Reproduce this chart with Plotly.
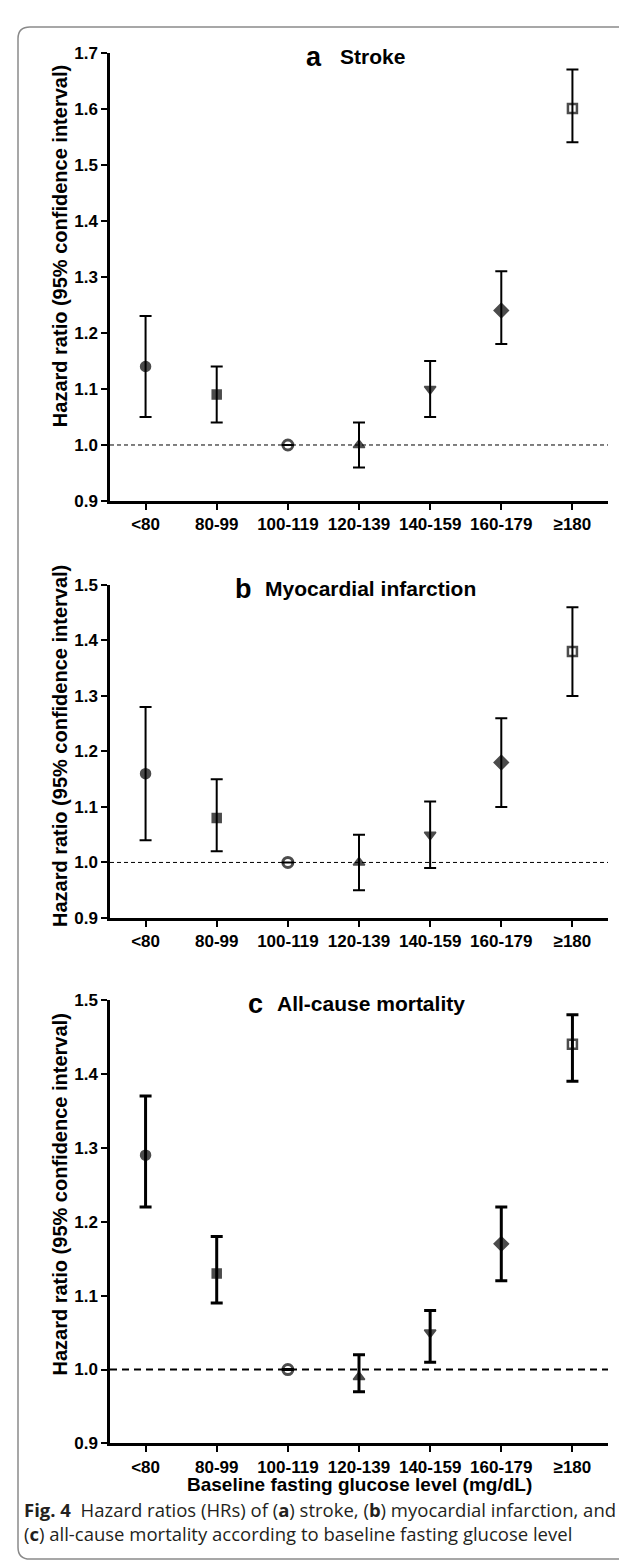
import plotly.graph_objects as go

W, H = 627, 1565

categories = ["<80", "80-99", "100-119", "120-139", "140-159", "160-179", "≥180"]
symbols = ["circle", "square", "circle-open", "triangle-up", "triangle-down", "diamond", "square-open"]
marker_sizes = [10, 9, 10, 10, 10, 11, 9]
marker_lw = [1.5, 1.5, 3, 1.5, 1.5, 1.5, 2.5]

# Panel a: Stroke
hr_a = [1.14, 1.09, 1.00, 1.00, 1.10, 1.24, 1.60]
lo_a = [1.05, 1.04, None, 0.96, 1.05, 1.18, 1.54]
hi_a = [1.23, 1.14, None, 1.04, 1.15, 1.31, 1.67]

# Panel b: Myocardial infarction
hr_b = [1.16, 1.08, 1.00, 1.00, 1.05, 1.18, 1.38]
lo_b = [1.04, 1.02, None, 0.95, 0.99, 1.10, 1.30]
hi_b = [1.28, 1.15, None, 1.05, 1.11, 1.26, 1.46]

# Panel c: All-cause mortality
hr_c = [1.29, 1.13, 1.00, 0.99, 1.05, 1.17, 1.44]
lo_c = [1.22, 1.09, None, 0.97, 1.01, 1.12, 1.39]
hi_c = [1.37, 1.18, None, 1.02, 1.08, 1.22, 1.48]

yticks_a = [0.9, 1.0, 1.1, 1.2, 1.3, 1.4, 1.5, 1.6, 1.7]
yticks_bc = [0.9, 1.0, 1.1, 1.2, 1.3, 1.4, 1.5]

REF = 1.0

FONT = "Liberation Sans, Arial, sans-serif"

def py(px):
    return 1 - px / H

def px_x(px):
    return px / W

panels = [
    dict(hr=hr_a, lo=lo_a, hi=hi_a, top=36, bot=490, rng=[0.9, 1.7], ticks=yticks_a,
         letter="a", title="Stroke", lx=306, tx=330, ty=40, thick=2, dash_w=1, dash="4px,3px", yt=232),
    dict(hr=hr_b, lo=lo_b, hi=hi_b, top=575, bot=912, rng=[0.9, 1.5], ticks=yticks_bc,
         letter="b", title="Myocardial infarction", lx=235, tx=255, ty=579, thick=2, dash_w=1, dash="4px,3px", yt=738),
    dict(hr=hr_c, lo=lo_c, hi=hi_c, top=995, bot=1444, rng=[0.9, 1.5], ticks=yticks_bc,
         letter="c", title="All-cause mortality", lx=248, tx=267, ty=999, thick=3, dash_w=2, dash="7px,5px", yt=1192),
]

fig = go.Figure()
x_left, x_right = 102, 600

annotations = []
shapes = []

for i, p in enumerate(panels, start=1):
    xa = "x" if i == 1 else f"x{i}"
    ya = "y" if i == 1 else f"y{i}"
    plus = [None if h is None else round(h - v, 4) for v, h in zip(p["hr"], p["hi"])]
    minus = [None if l is None else round(v - l, 4) for v, l in zip(p["hr"], p["lo"])]
    fig.add_trace(go.Scatter(
        x=list(range(len(categories))), y=p["hr"], mode="markers",
        xaxis=xa, yaxis=ya, showlegend=False,
        marker=dict(symbol=symbols, size=marker_sizes, color="black",
                    line=dict(color="black", width=marker_lw)),
        error_y=dict(type="data", symmetric=False, array=plus, arrayminus=minus,
                     color="black", thickness=p["thick"], width=6),
    ))
    xkey = "xaxis" if i == 1 else f"xaxis{i}"
    ykey = "yaxis" if i == 1 else f"yaxis{i}"
    fig.update_layout(**{
        xkey: dict(domain=[px_x(x_left), px_x(x_right)], anchor=ya, range=[-0.5, 6.5],
                   tickmode="array", tickvals=list(range(len(categories))), ticktext=categories,
                   showline=True, linecolor="black", linewidth=2.5, ticks="outside",
                   ticklen=6, tickwidth=2, tickcolor="black", showgrid=False, zeroline=False,
                   tickfont=dict(family=FONT, size=17, color="black", weight="bold")),
        ykey: dict(domain=[py(p["bot"]), py(p["top"])], anchor=xa, range=p["rng"],
                   tickmode="array", tickvals=p["ticks"], ticktext=[f"{t:.1f}" for t in p["ticks"]],
                   showline=True, linecolor="black", linewidth=2.5, ticks="outside",
                   ticklen=6, tickwidth=2, tickcolor="black", showgrid=False, zeroline=False,
                   tickfont=dict(family=FONT, size=17, color="black", weight="bold")),
    })
    shapes.append(dict(type="line", xref=f"{xa} domain", yref=ya, x0=0, x1=1, y0=REF, y1=REF,
                       line=dict(color="black", width=p["dash_w"], dash=p["dash"]), layer="below"))
    annotations.append(dict(text="<b>" + p["letter"] + "</b>", xref="paper", yref="paper",
                            x=px_x(p["lx"]), y=py(p["ty"]), xanchor="center", yanchor="middle",
                            showarrow=False, font=dict(family=FONT, size=27, color="black")))
    annotations.append(dict(text="<b>" + p["title"] + "</b>", xref="paper", yref="paper",
                            x=px_x(p["tx"]), y=py(p["ty"]), xanchor="left", yanchor="middle",
                            showarrow=False, font=dict(family=FONT, size=21, color="black")))
    annotations.append(dict(text="<b>Hazard ratio (95% confidence interval)</b>", xref="paper", yref="paper",
                            x=px_x(52), y=py(p["yt"]),
                            xanchor="center", yanchor="middle", textangle=-90, showarrow=False,
                            font=dict(family=FONT, size=20, color="black")))

annotations.append(dict(text="<b>Baseline fasting glucose level (mg/dL)</b>", xref="paper", yref="paper",
                        x=px_x(351), y=py(1486), xanchor="center", yanchor="middle", showarrow=False,
                        font=dict(family=FONT, size=19, color="black")))

CAP_FONT = "Open Sans, Noto Sans, sans-serif"
annotations.append(dict(text="<b>Fig. 4</b>  Hazard ratios (HRs) of (<b>a</b>) stroke, (<b>b</b>) myocardial infarction, and",
                        xref="paper", yref="paper", x=px_x(14), y=py(1511), xanchor="left", yanchor="middle",
                        showarrow=False, font=dict(family=CAP_FONT, size=18.5, color="#231f20")))
annotations.append(dict(text="(<b>c</b>) all-cause mortality according to baseline fasting glucose level",
                        xref="paper", yref="paper", x=px_x(14), y=py(1535), xanchor="left", yanchor="middle",
                        showarrow=False, font=dict(family=CAP_FONT, size=18.5, color="#231f20")))

# rounded frame (left side rounded, extends past right edge)
r = 12
x0, y0, y1 = 10, 10, 1561
def P(x, y):
    return f"{x / W:.5f},{1 - y / H:.5f}"
path = (f"M {P(W + 5, y0)} L {P(x0 + r, y0)} Q {P(x0, y0)} {P(x0, y0 + r)} "
        f"L {P(x0, y1 - r)} Q {P(x0, y1)} {P(x0 + r, y1)} L {P(W + 5, y1)}")
shapes.append(dict(type="path", xref="paper", yref="paper", path=path,
                   line=dict(color="#8a8a8a", width=1.5)))

fig.update_layout(width=W, height=H, margin=dict(l=0, r=0, t=0, b=0),
                  paper_bgcolor="white", plot_bgcolor="white",
                  annotations=annotations, shapes=shapes, showlegend=False)

fig.write_html("out.html")
